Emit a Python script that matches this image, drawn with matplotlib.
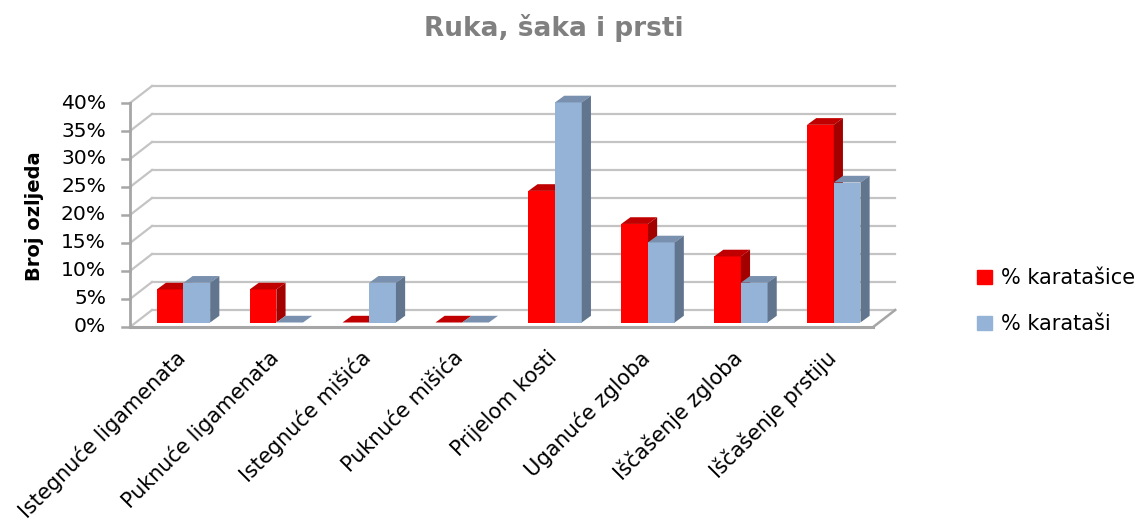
import matplotlib
matplotlib.use("Agg")
import matplotlib.pyplot as plt
from matplotlib.patches import Polygon, Patch

# data (percent)
categories = ["Istegnuće ligamenata", "Puknuće ligamenata", "Istegnuće mišića",
              "Puknuće mišića", "Prijelom kosti", "Uganuće zgloba",
              "Iščašenje zgloba", "Iščašenje prstiju"]
karatasice = [5.9, 5.9, 0.0, 0.0, 23.5, 17.6, 11.8, 35.3]
karatasi = [7.1, 0.0, 7.1, 0.0, 39.3, 14.3, 7.1, 25.0]
yticks = [0, 5, 10, 15, 20, 25, 30, 35, 40]
series_names = ["% karatašice", "% karataši"]

# pixel scale of the reference plot box
W, H = 1141, 524
PX_X = 92.9      # pixels per category
PX_Y = 5.6       # pixels per percent
X0, Y0 = 130, 327  # front-left-bottom corner in pixels

# 3d look (data units)
DX, DY = 22 / PX_X, 17 / PX_Y        # wall depth
BX, BY = 7 / PX_X, 4.5 / PX_Y        # bar plane offset
SX, SY = 9.2 / PX_X, 6.7 / PX_Y      # bar depth
BW = 26.7 / PX_X

fig = plt.figure(figsize=(W / 100, H / 100), dpi=100)
ax = fig.add_axes([0, 0, 1, 1])
ax.set_xlim(-0.5 - X0 / PX_X, -0.5 + (W - X0) / PX_X)
ax.set_ylim((Y0 - H) / PX_Y, Y0 / PX_Y)
ax.axis("off")

grid_c = "#C4C4C4"
axis_c = "#A6A6A6"
n = len(categories)
left, right = -0.5, n - 0.5

# walls
for g in yticks:
    ax.plot([left + DX, right + DX], [g + DY, g + DY], color=grid_c, lw=1.6, zorder=1)
    ax.plot([left, left + DX], [g, g + DY], color=grid_c, lw=1.6, zorder=1)
    ax.plot([left - 8 / PX_X, left], [g, g], color=axis_c, lw=1.8, zorder=2)
    ax.text(left - 24 / PX_X, g, f"{g}%", ha="right", va="center", fontsize=14.6)

ax.plot([left, left], [0, yticks[-1]], color=axis_c, lw=2, zorder=2)
ax.plot([left, right], [0, 0], color=axis_c, lw=2.2, zorder=2)
ax.plot([right, right + DX], [0, DY], color=axis_c, lw=1.8, zorder=2)


def bar3d(x0, v, front, top, side):
    x1 = x0 + BW
    ax.bar(x0, v, width=BW, bottom=BY, align="edge", color=front, lw=0, zorder=3)
    ax.add_patch(Polygon([(x0, v + BY), (x1, v + BY), (x1 + SX, v + BY + SY),
                          (x0 + SX, v + BY + SY)], closed=True, fc=top, ec="none", zorder=3))
    ax.add_patch(Polygon([(x1, BY), (x1, v + BY), (x1 + SX, v + BY + SY),
                          (x1 + SX, BY + SY)], closed=True, fc=side, ec="none", zorder=3))


for i in range(n):
    c = i + BX
    bar3d(c - BW, karatasice[i], "#FF0000", "#C00000", "#A30000")
    bar3d(c, karatasi[i], "#95B3D7", "#7990AE", "#61758F")

for i, lab in enumerate(categories):
    ax.text(i - 0.02, -3.6, lab, rotation=45, rotation_mode="anchor",
            ha="right", va="top", fontsize=15)

fig.text(554 / W, 1 - 28 / H, "Ruka, šaka i prsti", ha="center", va="center",
         fontsize=19, fontweight="bold", color="#808080")
fig.text(35 / W, 1 - 216 / H, "Broj ozljeda", ha="center", va="center",
         rotation=90, fontsize=14, fontweight="bold")

handles = [Patch(color="#FF0000"), Patch(color="#95B3D7")]
fig.legend(handles, series_names, loc="center left",
           bbox_to_anchor=(958 / W, 1 - 301 / H), frameon=False, fontsize=15,
           handlelength=0.75, handleheight=0.65, handletextpad=0.4,
           labelspacing=1.25)

fig.savefig("out.png", dpi=100)
